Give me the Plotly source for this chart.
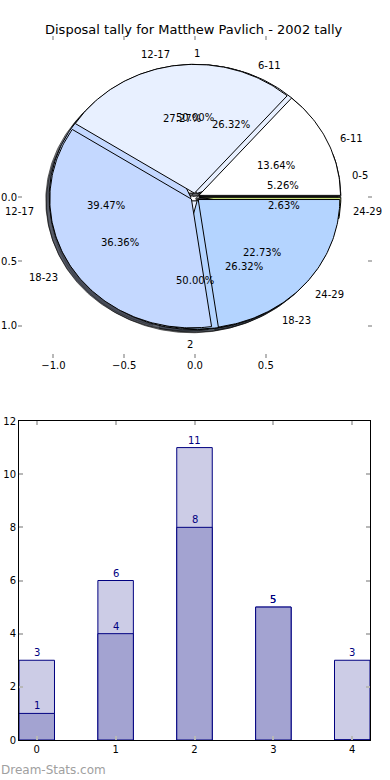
import numpy as np
import plotly.graph_objects as go

# ---------------- data ----------------
title_text = "Disposal tally for Matthew Pavlich - 2002 tally"
watermark = "Dream-Stats.com"

pie1_labels = ["1", "2"]
pie1_values = [1, 1]
pie2_labels = ["0-5", "6-11", "12-17", "18-23", "24-29"]
pie2_values = [2, 10, 15, 10, 1]
pie3_labels = ["6-11", "12-17", "18-23", "24-29"]
pie3_values = [3, 6, 8, 5]

pie_xticks = [-1.0, -0.5, 0.0, 0.5]
pie_xticklabels = ["\u22121.0", "\u22120.5", "0.0", "0.5"]
pie_yticks = [0.0, -0.5, -1.0]
pie_yticklabels = ["0.0", "0.5", "1.0"]

bar_categories = [0, 1, 2, 3, 4]
bar_totals = [3, 6, 11, 5, 3]
bar_subset = [1, 4, 8, 5, 0]
bar_yticks = [0, 2, 4, 6, 8, 10, 12]

# ---------------- style ----------------
pie_colors = ["#ffffff", "#e8f0ff", "#c4d8ff", "#b4d4ff", "#c8e07a"]
explode = 0.03
shadow_off = (-0.024, -0.024)
light_bar = "#ccccE6"
dark_bar = "#a3a3d1"
navy = "#000080"
tick_grey = "#b8b8b8"
W, H = 390, 780

fig = go.Figure()


def wedge_xy(cx, cy, t1, t2, r=1.0):
    n = max(int(abs(t2 - t1)), 2) + 1
    th = np.radians(np.linspace(t1, t2, n))
    xs = np.concatenate([[cx], cx + r * np.cos(th), [cx]])
    ys = np.concatenate([[cy], cy + r * np.sin(th), [cy]])
    return xs, ys


def hex_rgb(h):
    h = h.lstrip("#")
    return tuple(int(h[i:i + 2], 16) for i in (0, 2, 4))


pies = [(pie1_labels, pie1_values), (pie2_labels, pie2_values), (pie3_labels, pie3_values)]

# compute wedges
wedges = []
for labels, values in pies:
    total = float(sum(values))
    t = 0.0
    items = []
    for i, (lab, v) in enumerate(zip(labels, values)):
        frac = v / total
        t1, t2 = 360 * t, 360 * (t + frac)
        tm = np.radians((t1 + t2) / 2)
        cx, cy = explode * np.cos(tm), explode * np.sin(tm)
        items.append(dict(label=lab, frac=frac, t1=t1, t2=t2, tm=tm, cx=cx, cy=cy,
                          color=pie_colors[i % len(pie_colors)]))
        t += frac
    wedges.append(items)

# shadows (below all wedges)
for items in wedges:
    for w in items:
        xs, ys = wedge_xy(w["cx"] + shadow_off[0], w["cy"] + shadow_off[1], w["t1"], w["t2"])
        r, g, b = hex_rgb(w["color"])
        col = "rgba(%d,%d,%d,0.6)" % (r * 0.3, g * 0.3, b * 0.3)
        fig.add_trace(go.Scatter(x=xs, y=ys, mode="lines", fill="toself", fillcolor=col,
                                 line=dict(width=0.8, color="rgba(0,0,0,0.7)"), hoverinfo="skip",
                                 xaxis="x", yaxis="y"))

annotations = []
for items in wedges:
    for w in items:
        xs, ys = wedge_xy(w["cx"], w["cy"], w["t1"], w["t2"])
        fig.add_trace(go.Scatter(x=xs, y=ys, mode="lines", fill="toself", fillcolor=w["color"],
                                 line=dict(width=1, color="black"), hoverinfo="skip",
                                 xaxis="x", yaxis="y"))
        xt = w["cx"] + 1.1 * np.cos(w["tm"])
        yt = w["cy"] + 1.1 * np.sin(w["tm"])
        left = xt > 0
        annotations.append(dict(x=xt, y=yt, xref="x", yref="y", text=w["label"], showarrow=False,
                                xanchor="left" if left else "right", yanchor="middle",
                                xshift=-3 if left else 0, yshift=-2,
                                font=dict(size=10, color="black")))
        xp = w["cx"] + 0.6 * np.cos(w["tm"])
        yp = w["cy"] + 0.6 * np.sin(w["tm"])
        annotations.append(dict(x=xp, y=yp, xref="x", yref="y", text="%.2f%%" % (100 * w["frac"]),
                                showarrow=False, xanchor="center", yanchor="middle", yshift=-2,
                                font=dict(size=10, color="black")))

# bars
fig.add_trace(go.Bar(x=bar_categories, y=bar_totals, width=0.45, marker=dict(color=light_bar,
                     line=dict(color=navy, width=1)), xaxis="x2", yaxis="y2", hoverinfo="skip"))
fig.add_trace(go.Bar(x=bar_categories, y=bar_subset, width=0.45, marker=dict(color=dark_bar,
                     line=dict(color=navy, width=1)), xaxis="x2", yaxis="y2", hoverinfo="skip"))

for series in (bar_totals, bar_subset):
    for c, v in zip(bar_categories, series):
        if v > 0:
            annotations.append(dict(x=c, y=v, xref="x2", yref="y2", text=str(v), showarrow=False,
                                    xanchor="center", yanchor="bottom", yshift=0,
                                    font=dict(size=10, color=navy)))

annotations.append(dict(x=194 / W, y=1 - 30 / H, xref="paper", yref="paper", text=title_text,
                        showarrow=False, xanchor="center", yanchor="middle",
                        font=dict(size=13, color="black")))
annotations.append(dict(x=0, y=1 - 770 / H, xref="paper", yref="paper", text=watermark,
                        showarrow=False, xanchor="left", yanchor="middle", xshift=-1,
                        font=dict(size=12, color="#a0a0a0")))

common_tick = dict(ticks="inside", ticklen=4, tickwidth=1.5, tickcolor=tick_grey,
                   showgrid=False, zeroline=False, automargin=False,
                   tickfont=dict(size=10, color="black"))

fig.update_layout(
    width=W, height=H, margin=dict(l=0, r=0, t=0, b=0),
    paper_bgcolor="white", plot_bgcolor="white", showlegend=False,
    barmode="overlay", template="none",
    font=dict(family="DejaVu Sans", size=10, color="black"),
    xaxis=dict(domain=[18 / W, 372 / W], range=[-1.25, 1.25], anchor="y",
               tickvals=pie_xticks, ticktext=pie_xticklabels, showline=False, mirror="ticks",
               **common_tick),
    yaxis=dict(domain=[1 - 358 / H, 1 - 36 / H], range=[-1.25, 1.25], anchor="x",
               tickvals=pie_yticks, ticktext=pie_yticklabels, showline=False, mirror="ticks",
               **common_tick),
    xaxis2=dict(domain=[19 / W, 370 / W], range=[-0.225, 4.225], anchor="y2",
                tickvals=bar_categories, showline=True, linecolor="black", linewidth=1,
                mirror="ticks", **common_tick),
    yaxis2=dict(domain=[1 - 740 / H, 1 - 421 / H], range=[0, 12], anchor="x2",
                tickvals=bar_yticks, showline=True, linecolor="black", linewidth=1,
                mirror="ticks", **common_tick),
    annotations=annotations,
)

fig.write_html("out.html", config={"displayModeBar": False},
               post_script="document.body.style.margin='0px';")
